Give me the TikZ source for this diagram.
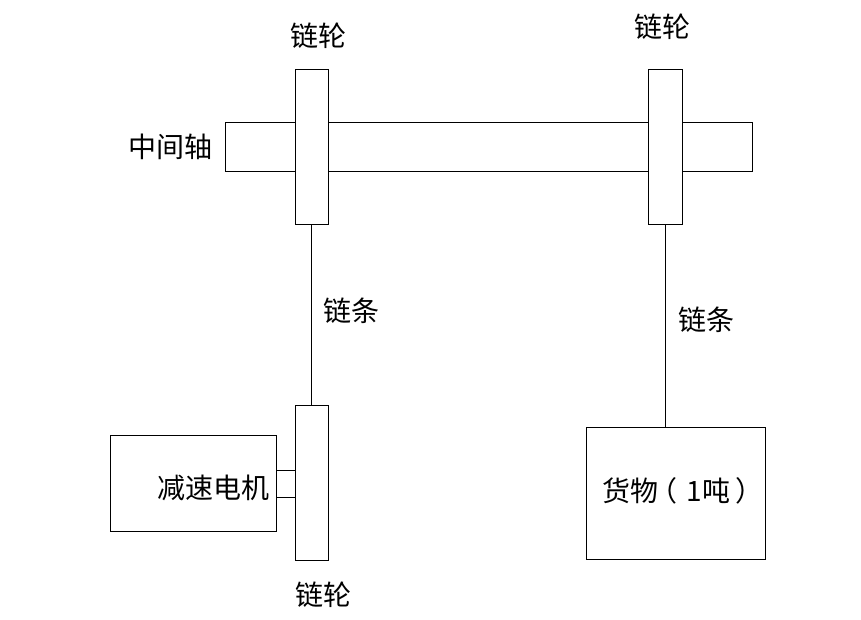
\documentclass[tikz,border=0pt]{standalone}
\usepackage{fontspec}
\usetikzlibrary{calc}
\newfontfamily\cjk{Noto Sans CJK SC}
\tikzset{
  part/.style={draw,line width=0.9pt,fill=white,inner sep=0pt,outer sep=0pt},
  chain/.style={line width=0.9pt},
  lab/.style={inner sep=0pt,font=\cjk\fontsize{28}{28}\selectfont}
}
\begin{document}
\begin{tikzpicture}[x=1pt,y=-1pt]
\useasboundingbox (0,0) rectangle (861,619);
%shaft and sprockets
\node [part,minimum width=527pt,minimum height=49pt] (shaft) at (488.5,146.5) {};
\node [part,minimum width=33pt,minimum height=155pt] (wheelA) at (311.5,146.5) {};
\node [part,minimum width=34pt,minimum height=155pt] (wheelB) at (665,146.5) {};
\node [part,minimum width=33pt,minimum height=155pt] (wheelC) at (311.5,482.5) {};
%motor and load
\node [part,minimum width=166pt,minimum height=96pt] (motor) at (193,483) {};
\node [part,minimum width=179pt,minimum height=132pt] (load) at (675.5,493) {};
%chains
\draw [chain] (wheelA.south) -- (wheelC.north);
\draw [chain] (wheelB.south) -- (wheelB.south |- load.north);
%motor output
\coordinate (stubA) at (0,470);
\coordinate (stubB) at (0,497);
\draw [chain] (motor.east |- stubA) -- (wheelC.west |- stubA);
\draw [chain] (motor.east |- stubB) -- (wheelC.west |- stubB);
%labels
\node [lab] (labA) at (318,36) {链轮};
\node [lab] (labB) at (662,27) {链轮};
\node [lab] (labC) at (323,595) {链轮};
\node [lab] (labShaft) at (170,147) {中间轴};
\node [lab] (labChainA) at (351,311) {链条};
\node [lab] (labChainB) at (706,320) {链条};
\node [lab] (labMotor) at (213,488) {减速电机};
\node [lab] (labLoad) at (683,491) {货物\hspace{-9pt}（\hspace{9pt}1吨\hspace{5pt}）};
\end{tikzpicture}
\end{document}
